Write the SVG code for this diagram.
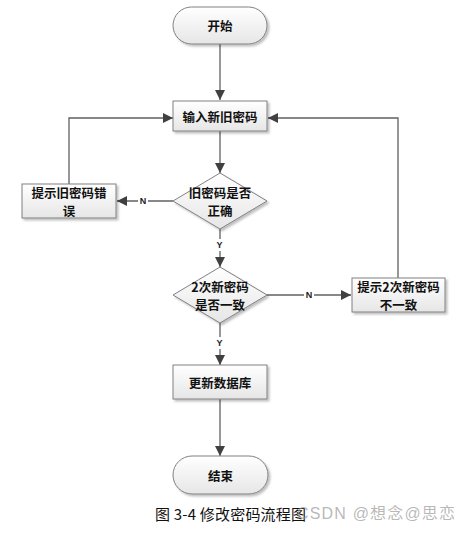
<svg xmlns="http://www.w3.org/2000/svg" width="471" height="535" viewBox="0 0 471 535">
<defs>
<linearGradient id="g" x1="0" y1="0" x2="0" y2="1">
<stop offset="0" stop-color="#ffffff"/>
<stop offset="1" stop-color="#e6e6e6"/>
</linearGradient>
<filter id="sh" x="-10%" y="-10%" width="130%" height="140%">
<feDropShadow dx="2" dy="2" stdDeviation="0.8" flood-color="#000" flood-opacity="0.25"/>
</filter>
<marker id="ar" viewBox="0 0 10 10" refX="10" refY="5" markerWidth="10" markerHeight="10" markerUnits="userSpaceOnUse" orient="auto">
<path d="M0,0 L10,5 L0,10 z" fill="#404040"/>
</marker>
<style>
.shape{fill:url(#g);stroke:#808080;stroke-width:1;filter:url(#sh)}
.t{font-family:"Noto Sans CJK SC","Liberation Serif",serif;font-weight:bold;font-size:12.5px;fill:#111;text-anchor:middle;dominant-baseline:central}
.c{fill:none;stroke:#606060;stroke-width:1.3;marker-end:url(#ar)}
.lbl{font-family:"Liberation Sans",Arial,sans-serif;font-weight:bold;font-size:9px;fill:#222;text-anchor:middle;dominant-baseline:central}
.lblbg{fill:#fff}
</style>
</defs>
<rect width="471" height="535" fill="#fff"/>

<g id="connectors">
<path class="c" d="M220,44 V100"/>
<path class="c" d="M220,131 V173"/>
<path class="c" d="M173,201 H117"/>
<path class="c" d="M69,184 V118 H173"/>
<path class="c" d="M398,278 V118 H268"/>
<path class="c" d="M220,229 V267"/>
<path class="c" d="M267,295 H351"/>
<path class="c" d="M220,323 V365"/>
<path class="c" d="M220,399 V456"/>
<rect class="lblbg" x="138" y="195" width="10" height="12"/>
<text class="lbl" x="143" y="201">N</text>
<rect class="lblbg" x="214" y="239" width="11" height="12"/>
<text class="lbl" x="219.5" y="245">Y</text>
<rect class="lblbg" x="304" y="289" width="10" height="12"/>
<text class="lbl" x="309" y="295">N</text>
<rect class="lblbg" x="214" y="337" width="11" height="12"/>
<text class="lbl" x="219.5" y="343">Y</text>
</g>

<g id="start">
<rect class="shape" x="173" y="7" width="94" height="37" rx="18.5"/>
<text class="t" x="220" y="25.5">开始</text>
</g>
<g id="input">
<rect class="shape" x="173" y="101" width="94" height="30"/>
<text class="t" x="220" y="116">输入新旧密码</text>
</g>
<g id="check-old">
<polygon class="shape" points="220,173 267,201 220,229 173,201"/>
<text class="t" x="220" y="192">旧密码是否</text>
<text class="t" x="220" y="210">正确</text>
</g>
<g id="old-error">
<rect class="shape" x="22" y="184" width="94" height="34"/>
<text class="t" x="69" y="192">提示旧密码错</text>
<text class="t" x="69" y="210">误</text>
</g>
<g id="check-new">
<polygon class="shape" points="220,267 267,295 220,323 173,295"/>
<text class="t" x="220" y="286">2次新密码</text>
<text class="t" x="220" y="304">是否一致</text>
</g>
<g id="new-error">
<rect class="shape" x="352" y="278" width="93" height="34"/>
<text class="t" x="398.5" y="286">提示2次新密码</text>
<text class="t" x="398.5" y="304">不一致</text>
</g>
<g id="update">
<rect class="shape" x="173" y="365" width="94" height="34"/>
<text class="t" x="220" y="382">更新数据库</text>
</g>
<g id="end">
<rect class="shape" x="173" y="456" width="95" height="38" rx="19"/>
<text class="t" x="220.5" y="475">结束</text>
</g>

<text x="155" y="513" textLength="151" lengthAdjust="spacing" font-family="'Noto Sans CJK SC','Liberation Sans',sans-serif" font-size="15" fill="#111" dominant-baseline="central">图 3-4 修改密码流程图</text>
<text x="297" y="513" textLength="158" lengthAdjust="spacing" font-family="'Liberation Sans','Noto Sans CJK SC',sans-serif" font-size="16" fill="#999" fill-opacity="0.7" dominant-baseline="central">CSDN @想念@思恋</text>
</svg>
